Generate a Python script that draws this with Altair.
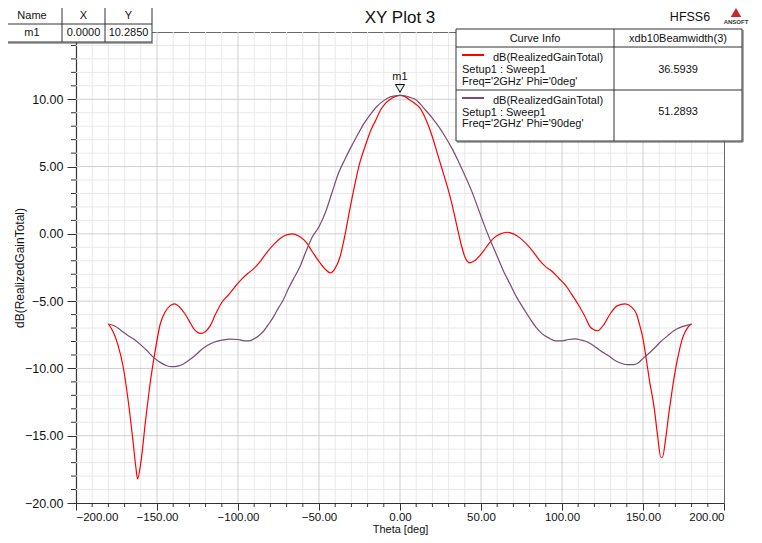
import altair as alt
import pandas as pd

# ---------------- data ----------------
theta_phi0 = [-180, -177, -174, -171, -168, -165, -163, -162, -160, -157, -154, -151, -148, -145, -142,
              -139, -136, -133, -130, -127, -123, -120, -117, -114, -110, -106, -102, -98, -94, -90,
              -86, -82, -78, -74, -70, -66, -62, -58, -54, -50, -46, -43, -40, -37, -34, -31, -28,
              -25, -21, -18, -15, -12, -9, -6, -3, 0, 3, 6, 9, 12, 16, 20, 23, 26, 29, 32, 35, 38,
              40, 43, 46, 49, 52, 55, 58, 62, 66, 70, 74, 78, 82, 86, 90, 94, 98, 102, 106, 110,
              114, 118, 122, 126, 130, 134, 139, 143, 146, 148, 150, 152, 154, 157, 159, 161, 162,
              164, 166, 168, 170, 172, 174, 176, 178, 180]
gain_phi0 = [-6.7, -7.3, -8.3, -9.8, -12.2, -15.2, -17.4, -18.2, -17.0, -13.8, -10.9, -8.6, -6.7, -5.8, -5.35,
             -5.2, -5.45, -5.9, -6.5, -7.1, -7.4, -7.25, -6.8, -6.0, -5.1, -4.55, -3.95, -3.4, -2.95, -2.55,
             -2.0, -1.35, -0.8, -0.35, -0.08, 0.0, -0.2, -0.62, -1.35, -2.05, -2.65, -2.9, -2.55, -1.7, -0.1, 1.8, 3.6,
             5.2, 6.7, 7.7, 8.45, 9.2, 9.7, 10.0, 10.2, 10.285, 10.2, 9.95, 9.7, 9.4, 8.5, 7.2, 6.0, 4.8, 3.6, 2.25, 0.65, -0.9,
             -1.7, -2.15, -2.0, -1.65, -1.2, -0.7, -0.3, 0.0, 0.12, 0.0, -0.3, -0.75, -1.3, -1.95, -2.45, -2.8, -3.3, -3.8, -4.5, -5.25,
             -6.1, -7.0, -7.2, -6.7, -5.9, -5.35, -5.2, -5.45, -5.95, -6.8, -7.8, -9.3, -10.9, -13.0, -15.0, -16.6, -16.6,
             -15.2, -13.3, -11.6, -10.1, -8.9, -7.9, -7.3, -6.9, -6.7]

theta_phi90 = [-180, -176, -172, -168, -164, -160, -156, -152, -148, -144, -141, -138, -135, -131, -127,
               -123, -119, -115, -110, -105, -100, -96, -93, -90, -87, -84, -81, -78, -75, -72, -69,
               -66, -62, -58, -54, -50, -46, -42, -38, -34, -30, -26, -22, -18, -14, -10, -6, -3, 0,
               3, 6, 10, 15, 20, 24, 28, 32, 36, 40, 44, 48, 52, 56, 60, 64, 68, 72, 76, 80, 84, 88,
               92, 96, 100, 104, 108, 112, 116, 120, 124, 128, 132, 136, 140, 144, 147, 150, 153,
               157, 161, 165, 169, 173, 177, 180]
gain_phi90 = [-6.7, -6.85, -7.2, -7.55, -7.85, -8.25, -8.7, -9.2, -9.55, -9.8, -9.87, -9.85, -9.75, -9.45, -9.1,
              -8.65, -8.3, -8.05, -7.9, -7.82, -7.85, -7.95, -7.95, -7.8, -7.55, -7.2, -6.7, -6.15, -5.5, -4.9, -4.1,
              -3.4, -2.5, -1.3, -0.2, 0.53, 1.6, 3.05, 4.5, 5.54, 6.5, 7.4, 8.25, 8.92, 9.5, 9.9, 10.18, 10.26, 10.285,
              10.26, 10.15, 9.95, 9.3, 8.6, 7.95, 7.2, 6.37, 5.4, 4.35, 3.25, 1.97, 0.65, -0.55, -1.67, -2.8, -3.75,
              -4.7, -5.5, -6.25, -6.95, -7.45, -7.75, -7.95, -7.95, -7.85, -7.8, -7.9, -8.05, -8.35, -8.7, -9.0,
              -9.35, -9.6, -9.72, -9.72, -9.6, -9.25, -8.95, -8.5, -8.0, -7.6, -7.2, -6.95, -6.8, -6.7]

curve_names = ["dB(RealizedGainTotal) Phi='0deg'", "dB(RealizedGainTotal) Phi='90deg'"]
curve_colors = ["#ff0000", "#7d4a72"]

x_major = [-200, -150, -100, -50, 0, 50, 100, 150, 200]
y_major = [-20, -15, -10, -5, 0, 5, 10]
x_grid_major = [-150, -100, -50, 0, 50, 100, 150]
y_grid_major = [-15, -10, -5, 0, 5, 10]
x_minor = [v for v in range(-200, 201, 10) if v % 50 != 0]
y_minor = [v for v in range(-20, 16) if v % 5 != 0]

marker_name = "m1"
marker_x = 0.0
marker_y = 10.285

table_header = ["Name", "X", "Y"]
table_row = ["m1", "0.0000", "10.2850"]

legend_header = ["Curve Info", "xdb10Beamwidth(3)"]
legend_rows = [
    ["dB(RealizedGainTotal)", "Setup1 : Sweep1", "Freq='2GHz' Phi='0deg'", "36.5939"],
    ["dB(RealizedGainTotal)", "Setup1 : Sweep1", "Freq='2GHz' Phi='90deg'", "51.2893"],
]

# ---------------- layout ----------------
FONT = "Liberation Sans"
W, H = 648, 471
OX, OY = 76, 32  # page position of plot origin
TXT = "#111111"

xscale = alt.Scale(domain=[-200, 200], nice=False, zero=False)
yscale = alt.Scale(domain=[-20, 15], nice=False, zero=False)

X_AXIS = alt.Axis(values=x_major, format=".2f", title="Theta [deg]", tickSize=7,
                  labelPadding=1, grid=False, titleY=26, titleBaseline="middle",
                  titleFontSize=11, labelFontSize=11.5)
Y_AXIS = alt.Axis(values=y_major, format=".2f", title="dB(RealizedGainTotal)", tickSize=9,
                  labelPadding=4, grid=False, titleX=-57, titleY=H / 2,
                  titleBaseline="middle", titleAngle=270,
                  titleFontSize=12, labelFontSize=12.5)


def XE():
    return alt.X("theta:Q", scale=xscale, axis=X_AXIS)


def YE():
    return alt.Y("gain:Q", scale=yscale, axis=Y_AXIS)


one = alt.Data(values=[{}])


def px(v):
    return alt.value(v - OX)


def py(v):
    return alt.value(v - OY)


def text(s, x, y, align="center", size=11, weight="normal", color=TXT):
    return alt.Chart(one).mark_text(
        text=s, align=align, baseline="middle", fontSize=size, font=FONT,
        fontWeight=weight, color=color
    ).encode(x=px(x), y=py(y))


def rect(x1, y1, x2, y2, fill="white", stroke="#333333", sw=1):
    return alt.Chart(one).mark_rect(fill=fill, stroke=stroke, strokeWidth=sw).encode(
        x=px(x1), x2=px(x2), y=py(y1), y2=py(y2))


def hline(x1, x2, y, color="#333333", sw=1):
    return alt.Chart(one).mark_rule(color=color, strokeWidth=sw).encode(
        x=px(x1), x2=px(x2), y=py(y))


def vline(x, y1, y2, color="#333333", sw=1):
    return alt.Chart(one).mark_rule(color=color, strokeWidth=sw).encode(
        x=px(x), y=py(y1), y2=py(y2))


# grid
gx_minor = alt.Chart(pd.DataFrame({"theta": x_minor})).mark_rule(color="#e9e9e9", strokeWidth=1).encode(x=XE())
gy_minor = alt.Chart(pd.DataFrame({"gain": y_minor})).mark_rule(color="#e9e9e9", strokeWidth=1).encode(y=YE())
gx_major = alt.Chart(pd.DataFrame({"theta": x_grid_major})).mark_rule(color="#cfcfcf", strokeWidth=1).encode(x=XE())
gy_major = alt.Chart(pd.DataFrame({"gain": y_grid_major})).mark_rule(color="#cfcfcf", strokeWidth=1).encode(y=YE())

# minor ticks outside the plot
tx_minor = alt.Chart(pd.DataFrame({"theta": x_minor})).mark_rule(color="#333333", strokeWidth=1).encode(
    x=XE(), y=alt.value(H), y2=alt.value(H + 4))
ty_minor = alt.Chart(pd.DataFrame({"gain": y_minor})).mark_rule(color="#333333", strokeWidth=1).encode(
    y=YE(), x=alt.value(-5), x2=alt.value(0))

# curves
df = pd.concat([
    pd.DataFrame({"theta": theta_phi0, "gain": gain_phi0, "curve": curve_names[0]}),
    pd.DataFrame({"theta": theta_phi90, "gain": gain_phi90, "curve": curve_names[1]}),
])
lines = alt.Chart(df).mark_line(strokeWidth=1.2, interpolate="monotone").encode(
    x=XE(), y=YE(),
    color=alt.Color("curve:N", scale=alt.Scale(domain=curve_names, range=curve_colors), legend=None),
    detail="curve:N",
)

# marker
mdf = pd.DataFrame({"theta": [marker_x], "gain": [marker_y], "name": [marker_name]})
mk = alt.Chart(mdf).mark_point(shape="triangle-down", size=80, filled=False, color="black",
                               strokeWidth=1, yOffset=-7, opacity=1).encode(x=XE(), y=YE())
mk_text = alt.Chart(mdf).mark_text(fontSize=11, font=FONT, color=TXT, dy=-18).encode(
    x=XE(), y=YE(), text="name:N")

layers = [gx_minor, gy_minor, gx_major, gy_major, tx_minor, ty_minor, lines, mk, mk_text]

# title & branding
layers.append(text("XY Plot 3", 400, 18, size=17))
layers.append(text("HFSS6", 690, 17, size=12.5))
layers.append(alt.Chart(one).mark_point(shape="triangle-up", size=110, filled=True, color="#c62828",
                                        opacity=1).encode(x=px(736), y=py(12.5)))
layers.append(text("ANSOFT", 736, 22, size=6, weight="bold", color="#333333"))

# top-left marker table
tcols = [2, 62, 105, 152]
trows = [7, 24, 42]
layers.append(rect(tcols[0], trows[0], tcols[-1], trows[-1]))
layers.append(hline(tcols[0], tcols[-1], trows[1]))
for cx in tcols[1:-1]:
    layers.append(vline(cx, trows[0], trows[-1]))
layers.append(hline(tcols[0] + 1, tcols[-1] + 1, trows[-1] + 1, color="#555555"))
for i in range(3):
    cxm = (tcols[i] + tcols[i + 1]) / 2
    layers.append(text(table_header[i], cxm, 16))
    layers.append(text(table_row[i], cxm, 33))

# curve info legend box
lx1, lx2, ldiv = 456, 742, 614
ly = [29, 47, 90, 141]
layers.append(rect(lx1, ly[0], lx2, ly[-1]))
layers.append(hline(lx1, lx2, ly[1]))
layers.append(hline(lx1, lx2, ly[2]))
layers.append(vline(ldiv, ly[0], ly[-1]))
layers.append(vline(lx2 + 1, ly[0] + 1, ly[-1] + 1, color="#555555"))
layers.append(hline(lx1 + 1, lx2 + 1, ly[-1] + 1, color="#555555"))
layers.append(text(legend_header[0], (lx1 + ldiv) / 2, 38.5))
layers.append(text(legend_header[1], (ldiv + lx2) / 2, 38.5))
row_y = [[55, 57.5, 70, 81.5, 69.5], [98, 100.5, 112.5, 124, 112]]
for r, (vals, ys) in enumerate(zip(legend_rows, row_y)):
    layers.append(hline(462, 484, ys[0], color=curve_colors[r], sw=2))
    layers.append(text(vals[0], 493, ys[1], align="left"))
    layers.append(text(vals[1], 462, ys[2], align="left"))
    layers.append(text(vals[2], 462, ys[3], align="left"))
    layers.append(text(vals[3], (ldiv + lx2) / 2, ys[4]))

chart = alt.layer(*layers).properties(
    width=W, height=H,
    autosize=alt.AutoSizeParams(type="none"),
    padding={"left": OX - 8, "top": OY - 8, "right": 30, "bottom": 32},
    background="white",
).configure_view(stroke="#6a6a6a", strokeWidth=1).configure_axis(
    labelFont=FONT, titleFont=FONT, labelColor=TXT, titleColor=TXT, titleFontWeight="normal",
    domainColor="#333333", tickColor="#333333", domainWidth=1.2,
)

chart.save("out.html", embed_options={"renderer": "svg", "actions": False})
